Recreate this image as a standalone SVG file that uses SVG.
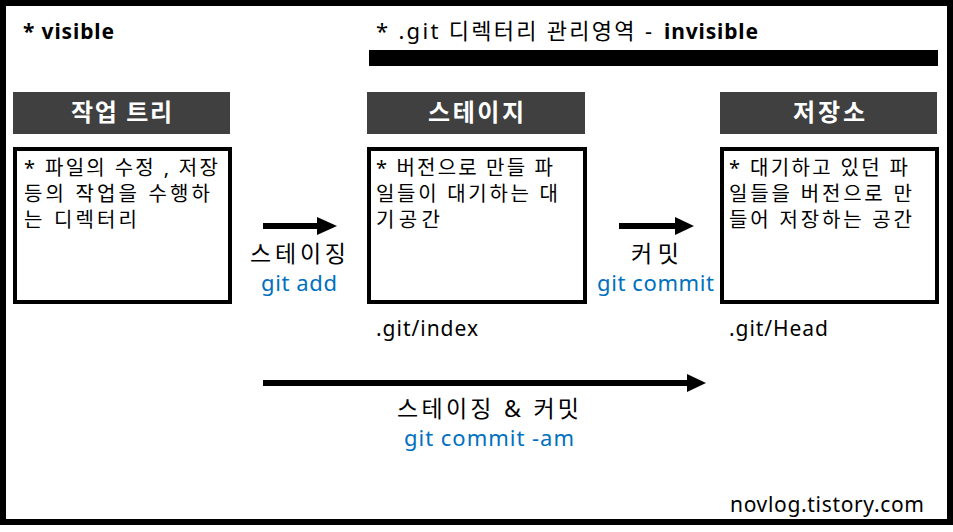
<svg xmlns="http://www.w3.org/2000/svg" width="953" height="532" viewBox="0 0 953 532">
<style>
text{font-family:"Noto Sans","Noto Sans CJK KR",sans-serif;fill:#000}
.hd{fill:#404040}
.ht{fill:#fff;font-weight:bold;font-size:24px}
.box{fill:#fff;stroke:#000;stroke-width:4}
.bt{font-size:20px}
.lb{font-size:23px}
.bl{fill:#0070C0;font-size:22px}
.pt{font-size:21px}
.ln{stroke:#000;stroke-width:6;fill:none}
</style>
<rect x="0" y="0" width="953" height="532" fill="#fff"/>
<rect x="3" y="3" width="947" height="519" fill="none" stroke="#000" stroke-width="6"/>
<text x="23" y="39" style="font-size:21px;font-weight:bold" textLength="91" lengthAdjust="spacing">* visible</text>
<text x="376" y="39" style="font-size:22px" textLength="276" lengthAdjust="spacing">* .git 디렉터리 관리영역 -</text>
<text x="664" y="39" style="font-size:21px;font-weight:bold" textLength="94" lengthAdjust="spacing">invisible</text>
<rect x="369" y="50" width="569" height="16" fill="#000"/>
<g id="worktree">
<rect class="hd" x="13" y="92" width="217" height="42"/>
<text class="ht" x="71" y="121" textLength="101" lengthAdjust="spacing">작업 트리</text>
<rect class="box" x="15" y="149" width="215" height="153"/>
<text class="bt" x="24" y="175" textLength="194" lengthAdjust="spacing">* 파일의 수정 , 저장</text>
<text class="bt" x="24" y="201" textLength="186" lengthAdjust="spacing">등의 작업을 수행하</text>
<text class="bt" x="24" y="227" textLength="113" lengthAdjust="spacing">는 디렉터리</text>
</g>
<g id="stage">
<rect class="hd" x="367" y="92" width="218" height="42"/>
<text class="ht" x="428" y="121" textLength="96" lengthAdjust="spacing">스테이지</text>
<rect class="box" x="369" y="149" width="216" height="153"/>
<text class="bt" x="376" y="175" textLength="177" lengthAdjust="spacing">* 버전으로 만들 파</text>
<text class="bt" x="376" y="201" textLength="182" lengthAdjust="spacing">일들이 대기하는 대</text>
<text class="bt" x="376" y="227" textLength="64" lengthAdjust="spacing">기공간</text>
<text class="pt" x="376" y="336" textLength="102" lengthAdjust="spacing">.git/index</text>
</g>
<g id="repo">
<rect class="hd" x="720" y="92" width="217" height="42"/>
<text class="ht" x="793" y="121" textLength="72" lengthAdjust="spacing">저장소</text>
<rect class="box" x="722" y="149" width="215" height="153"/>
<text class="bt" x="729" y="175" textLength="179" lengthAdjust="spacing">* 대기하고 있던 파</text>
<text class="bt" x="729" y="201" textLength="183" lengthAdjust="spacing">일들을 버전으로 만</text>
<text class="bt" x="729" y="227" textLength="183" lengthAdjust="spacing">들어 저장하는 공간</text>
<text class="pt" x="729" y="336" textLength="99" lengthAdjust="spacing">.git/Head</text>
</g>
<g id="connectors">
<line class="ln" x1="263" y1="226" x2="319" y2="226"/>
<polygon points="317,217 337,226 317,235" fill="#000"/>
<text class="lb" x="250" y="262" textLength="96" lengthAdjust="spacing">스테이징</text>
<text class="bl" x="261" y="291" textLength="76" lengthAdjust="spacing">git add</text>
<line class="ln" x1="619" y1="226" x2="677" y2="226"/>
<polygon points="675,217 694,226 675,235" fill="#000"/>
<text class="lb" x="631" y="262" textLength="48" lengthAdjust="spacing">커밋</text>
<text class="bl" x="597" y="291" textLength="117" lengthAdjust="spacing">git commit</text>
<line class="ln" x1="263" y1="383" x2="690" y2="383"/>
<polygon points="687,374 706,383 687,392" fill="#000"/>
<text class="lb" x="397" y="417" textLength="182" lengthAdjust="spacing">스테이징 &amp; 커밋</text>
<text class="bl" x="404" y="446" textLength="170" lengthAdjust="spacing">git commit -am</text>
</g>
<text x="730" y="512" style="font-size:21px" textLength="194" lengthAdjust="spacing">novlog.tistory.com</text>
</svg>
